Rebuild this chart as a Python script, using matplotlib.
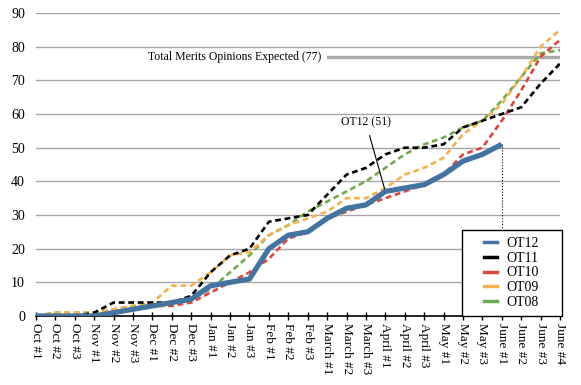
import matplotlib.pyplot as plt
from matplotlib.lines import Line2D
from matplotlib.patches import Rectangle

# --- data ---
weeks = ['Oct #1', 'Oct #2', 'Oct #3', 'Nov #1', 'Nov #2', 'Nov #3',
         'Dec #1', 'Dec #2', 'Dec #3', 'Jan #1', 'Jan #2', 'Jan #3',
         'Feb #1', 'Feb #2', 'Feb #3', 'March #1', 'March #2', 'March #3',
         'April #1', 'April #2', 'April #3', 'May #1', 'May #2', 'May #3',
         'June #1', 'June #2', 'June #3', 'June #4']

ot12 = [0, 0, 0, 0, 1, 2, 3, 4, 5, 9, 10, 11, 20, 24, 25, 29, 32, 33,
        37, 38, 39, 42, 46, 48, 51]
ot11 = [0, 0, 0, 1, 4, 4, 4, 4, 6, 13, 18, 20, 28, 29, 30, 36, 42, 44,
        48, 50, 50, 51, 56, 58, 60, 62, 69, 75]
ot10 = [0, 0, 0, 0, 1, 2, 3, 3, 4, 7, 10, 13, 17, 23, 25, 29, 31, 33,
        35, 37, 39, 42, 48, 50, 58, 67, 77, 82]
ot09 = [0, 1, 1, 1, 2, 3, 4, 9, 9, 13, 18, 19, 24, 27, 29, 31, 35, 35,
        38, 42, 44, 47, 54, 58, 63, 71, 80, 85]
ot08 = [0, 1, 1, 1, 2, 3, 3, 4, 5, 8, 13, 18, 24, 27, 31, 34, 37, 40,
        44, 48, 51, 53, 56, 58, 64, 71, 78, 79]

expected = 77

plt.rcParams['font.family'] = ['Liberation Serif', 'DejaVu Serif']

fig = plt.figure(figsize=(5.81, 3.85), dpi=100)
ax = fig.add_axes([36 / 581, 1 - 316 / 385, 524 / 581, 303 / 385])

x = list(range(len(weeks)))

# gridlines
for v in range(10, 100, 10):
    ax.axhline(v, color='#a6a6a6', lw=1, zorder=1)

dash = (2.2, 1.4)
ax.plot(x, ot08, color='#72a84f', lw=1.9, dashes=dash, zorder=3)
ax.plot(x, ot09, color='#f5b24e', lw=1.9, dashes=dash, zorder=3)
ax.plot(x, ot10, color='#d9473f', lw=1.9, dashes=dash, zorder=3)
ax.plot(x, ot11, color='black', lw=1.9, dashes=dash, zorder=3)
ax.plot(x[:len(ot12)], ot12, color='#44739f', lw=3.8, zorder=4,
        solid_capstyle='butt')

# dotted drop line from the last OT12 point
last = len(ot12) - 1
ax.plot([last, last], [0, ot12[-1]], color='black', lw=0.8, ls=':', zorder=2)

# expected total
ax.plot([15.05, 27], [expected, expected], color='#a9a9a9', lw=2.4, zorder=2)
ax.text(14.7, expected, f'Total Merits Opinions Expected ({expected})',
        ha='right', va='center', fontsize=8.5)

ax.annotate(f'OT12 ({ot12[-1]})', xy=(18, ot12[18]), xytext=(17, 57.4),
            ha='center', va='center', fontsize=8.5,
            arrowprops=dict(arrowstyle='-', color='black', lw=0.8,
                            shrinkA=3, shrinkB=0))

ax.set_xlim(0, 27)
ax.set_ylim(0, 90)
ax.set_yticks(range(0, 100, 10))
ax.set_xticks(x)
ax.set_xticklabels(weeks, rotation=-90, fontsize=9.5, va='top', ha='center')
ax.tick_params(axis='y', length=0, labelsize=10, pad=8)
ax.tick_params(axis='x', direction='inout', length=6, width=1, pad=2)
for s in ['top', 'right', 'left']:
    ax.spines[s].set_visible(False)
ax.spines['bottom'].set_linewidth(1.2)

# legend box
box = Rectangle((0.813, 0), 0.19, 0.284, transform=ax.transAxes,
                facecolor='white', edgecolor='black', lw=1, zorder=6,
                clip_on=False)
ax.add_patch(box)
handles = [Line2D([], [], color=c, lw=2.5) for c in
           ['#44739f', 'black', '#d9473f', '#f5b24e', '#72a84f']]
leg = ax.legend(handles, ['OT12', 'OT11', 'OT10', 'OT09', 'OT08'],
                loc='center', bbox_to_anchor=(0.813 + 0.095, 0.142),
                frameon=False, fontsize=10, handlelength=0.9,
                handletextpad=0.7, labelspacing=0.12)
leg.set_zorder(7)

fig.savefig('out.png', dpi=100)
